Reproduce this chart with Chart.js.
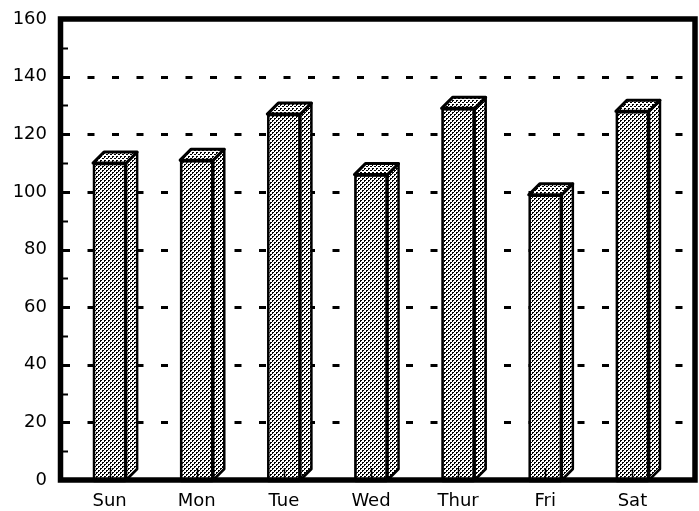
<!DOCTYPE html>
<html>
<head>
<meta charset="utf-8">
<script src="https://cdn.jsdelivr.net/npm/chart.js@4.4.1/dist/chart.umd.min.js"></script>
<style>
  html, body { margin: 0; background: #fff; }
  #wrap { width: 699px; height: 511px; }
</style>
</head>
<body>
<div id="wrap"><canvas id="chart"></canvas></div>
<script>
/* ── DATA ─────────────────────────────────── */
const days       = ['Sun', 'Mon', 'Tue', 'Wed', 'Thur', 'Fri', 'Sat'];
const counts     = [110, 111, 127, 106, 129, 99, 128];
const yTicks     = [0, 20, 40, 60, 80, 100, 120, 140, 160];
const minorTicks = [10, 30, 50, 70, 90, 110, 130, 150];

/* ── STIPPLE PATTERNS ─────────────────────── */
function makeStipple(dots) {
  const c = document.createElement('canvas');
  c.width = 4; c.height = 4;
  const g = c.getContext('2d');
  g.fillStyle = '#fff';
  g.fillRect(0, 0, 4, 4);
  g.fillStyle = '#000';
  dots.forEach(([dx, dy]) => g.fillRect(dx, dy, 1, 1));
  return g.createPattern(c, 'repeat');
}
const stipple    = makeStipple([[0, 0], [1, 0], [0, 1], [2, 2], [3, 2], [2, 3]]);
const stippleTop = makeStipple([[0, 0], [1, 0], [2, 2], [3, 2], [0, 1]]);

const DEPTH = 11;
const labelFont = { family: 'DejaVu Sans', size: 18, weight: '500' };

/* ── FRAME, GRID, 3D FACES ────────────────── */
const box3d = {
  id: 'box3d',
  beforeDatasetsDraw(chart) {
    const { ctx, chartArea: a, scales: { y } } = chart;
    const L = a.left - 3, R = a.right + 16;
    ctx.save();
    ctx.strokeStyle = '#000';
    ctx.lineWidth = 3;
    ctx.setLineDash([7, 17.5]);
    yTicks.forEach(v => {
      if (v === yTicks[0] || v === yTicks[yTicks.length - 1]) return;
      const py = Math.round(y.getPixelForValue(v)) + 0.5;
      ctx.beginPath(); ctx.moveTo(L, py); ctx.lineTo(R, py); ctx.stroke();
    });
    ctx.restore();
  },
  afterDatasetsDraw(chart) {
    const { ctx, chartArea: a, scales: { x, y } } = chart;
    ctx.save();
    ctx.strokeStyle = '#000';
    ctx.lineJoin = 'round';
    chart.getDatasetMeta(0).data.forEach(bar => {
      const p = bar.getProps(['x', 'y', 'base', 'width'], true);
      const l = p.x - p.width / 2, r = p.x + p.width / 2;
      const t = p.y, b = p.base;
      // side face
      ctx.beginPath();
      ctx.moveTo(r, t); ctx.lineTo(r + DEPTH, t - DEPTH);
      ctx.lineTo(r + DEPTH, b - DEPTH); ctx.lineTo(r, b);
      ctx.closePath();
      ctx.fillStyle = stipple; ctx.fill();
      ctx.lineWidth = 2.5; ctx.stroke();
      // top face
      ctx.beginPath();
      ctx.moveTo(l, t); ctx.lineTo(l + DEPTH, t - DEPTH);
      ctx.lineTo(r + DEPTH, t - DEPTH); ctx.lineTo(r, t);
      ctx.closePath();
      ctx.fillStyle = stippleTop; ctx.fill();
      ctx.lineWidth = 3; ctx.stroke();
      // front outline on top
      ctx.lineWidth = 2.5;
      ctx.strokeRect(l + 1, t + 1, p.width - 2, b - t);
    });
    // category ticks rising from the base
    ctx.lineWidth = 1.5;
    days.forEach((d, i) => {
      const px = Math.round(x.getPixelForValue(i)) + 0.5;
      ctx.beginPath(); ctx.moveTo(px, a.bottom); ctx.lineTo(px, a.bottom - 12); ctx.stroke();
    });
    // minor ticks on left
    ctx.lineWidth = 2;
    minorTicks.forEach(v => {
      const py = Math.round(y.getPixelForValue(v)) + 0.5;
      ctx.beginPath(); ctx.moveTo(a.left - 4, py); ctx.lineTo(a.left + 2, py); ctx.stroke();
    });
    // heavy frame
    ctx.lineWidth = 5.5;
    ctx.lineJoin = 'miter';
    ctx.strokeRect(a.left - 5.5, a.top, (a.right + 19) - (a.left - 5.5), a.bottom - a.top);
    ctx.restore();
  }
};

/* ── CHART ────────────────────────────────── */
new Chart(document.getElementById('chart'), {
  type: 'bar',
  data: {
    labels: days,
    datasets: [{
      data: counts,
      backgroundColor: stipple,
      borderColor: '#000',
      borderWidth: 2,
      barPercentage: 0.38,
      categoryPercentage: 1
    }]
  },
  options: {
    responsive: true,
    maintainAspectRatio: false,
    animation: false,
    layout: { padding: { top: 19, right: 23, left: 0, bottom: 0 } },
    plugins: { legend: { display: false }, tooltip: { enabled: false } },
    scales: {
      x: {
        grid: { display: false, drawTicks: false },
        border: { display: false },
        ticks: { color: '#000', padding: 11, font: labelFont },
        afterFit: s => { s.height = 31; s.paddingLeft = 0; s.paddingRight = 0; }
      },
      y: {
        min: 0, max: 160,
        afterBuildTicks: s => { s.ticks = yTicks.map(v => ({ value: v })); },
        grid: { display: false, drawTicks: false },
        border: { display: false },
        ticks: { color: '#000', padding: 19, font: labelFont },
        afterFit: s => { s.width = 66; s.paddingTop = 0; s.paddingBottom = 0; }
      }
    }
  },
  plugins: [box3d]
});
</script>
</body>
</html>
